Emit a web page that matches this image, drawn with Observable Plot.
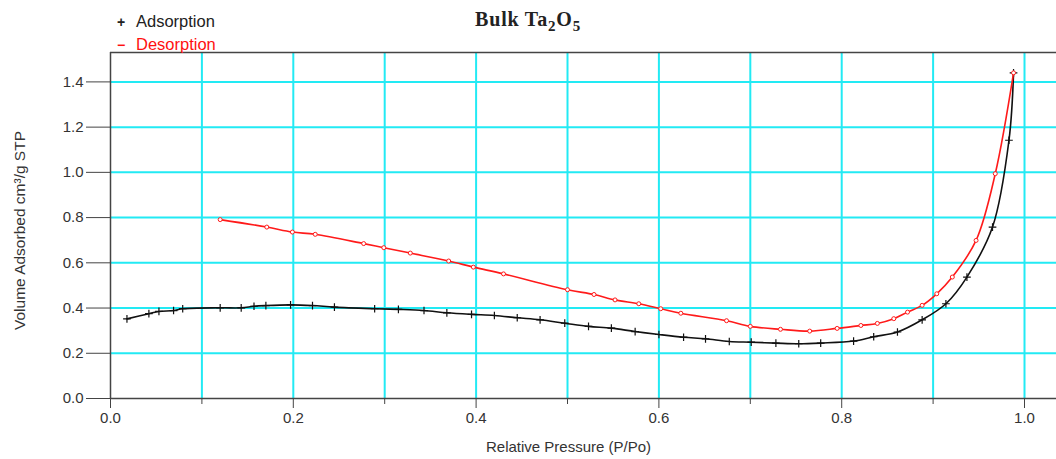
<!DOCTYPE html>
<html>
<head>
<meta charset="utf-8">
<script src="https://cdn.jsdelivr.net/npm/d3@7"></script>
<script src="https://cdn.jsdelivr.net/npm/@observablehq/plot@0.6"></script>
<style>
  html, body { margin: 0; padding: 0; background: #fff; }
  #wrap { position: relative; width: 1056px; height: 459px; overflow: hidden; }
  #title { position: absolute; left: 0; width: 1056px; top: 8px; text-align: center; font-family: "Liberation Serif", "DejaVu Serif", serif; font-weight: bold; font-size: 20px; letter-spacing: 0.8px; color: #222; }
  #title sub { font-size: 15px; vertical-align: -5px; line-height: 0; }
  .leg { position: absolute; font-family: "Liberation Sans", Arial, sans-serif; font-size: 16.5px; line-height: 18px; }
  .leg .sym { display: inline-block; width: 12px; text-align: center; font-weight: bold; font-size: 14px; margin-right: 9px; }
  #plot { position: absolute; left: 0; top: 0; }
</style>
</head>
<body>
<div id="wrap">
  <div id="plot"></div>
  <div id="title">Bulk Ta<sub>2</sub>O<sub>5</sub></div>
  <div class="leg" style="left:115px; top:12px; color:#222;"><span class="sym">+</span><span id="l1"></span></div>
  <div class="leg" style="left:115px; top:35px; color:#ff1010;"><span class="sym">−</span><span id="l2"></span></div>
</div>
<script>
const seriesNames = ["Adsorption", "Desorption"];
const adsX = [0.018,0.042,0.053,0.069,0.079,0.120,0.143,0.157,0.170,0.197,0.221,0.245,0.289,0.315,0.343,0.368,0.395,0.420,0.445,0.470,0.497,0.523,0.548,0.574,0.600,0.627,0.651,0.677,0.701,0.728,0.753,0.777,0.813,0.835,0.861,0.888,0.914,0.937,0.965,0.983,0.988];
const adsY = [0.352,0.375,0.385,0.389,0.397,0.401,0.401,0.408,0.411,0.414,0.411,0.404,0.397,0.394,0.389,0.379,0.372,0.367,0.357,0.348,0.333,0.319,0.311,0.296,0.283,0.271,0.264,0.252,0.249,0.245,0.242,0.245,0.254,0.273,0.294,0.348,0.419,0.537,0.758,1.142,1.440];
const desX = [0.120,0.171,0.199,0.224,0.277,0.299,0.328,0.370,0.397,0.430,0.500,0.529,0.552,0.578,0.602,0.624,0.674,0.700,0.733,0.765,0.795,0.821,0.839,0.857,0.872,0.888,0.904,0.921,0.947,0.968,0.988];
const desY = [0.791,0.758,0.736,0.726,0.685,0.667,0.643,0.608,0.581,0.551,0.481,0.460,0.436,0.419,0.397,0.377,0.344,0.319,0.306,0.298,0.310,0.323,0.332,0.353,0.382,0.412,0.463,0.537,0.699,0.994,1.440];
const xMajorTicks = [0.0, 0.2, 0.4, 0.6, 0.8, 1.0];
const xMinorTicks = [0.1, 0.3, 0.5, 0.7, 0.9];
const xGrid = [0.1,0.2,0.3,0.4,0.5,0.6,0.7,0.8,0.9,1.0];
const yTicks = [0.0,0.2,0.4,0.6,0.8,1.0,1.2,1.4];
const yGrid = [0.2,0.4,0.6,0.8,1.0,1.2,1.4];
const xLabel = "Relative Pressure (P/Po)";
const yLabel = "Volume Adsorbed cm³/g STP";

document.getElementById("l1").textContent = seriesNames[0];
document.getElementById("l2").textContent = seriesNames[1];

const ads = adsX.map((x, i) => ({x, y: adsY[i]}));
const des = desX.map((x, i) => ({x, y: desY[i]}));

const axisColor = "#444";
const cyan = "#22eaf4";

const chart = Plot.plot({
  width: 1056,
  height: 459,
  marginLeft: 110,
  marginRight: 0,
  marginTop: 52,
  marginBottom: 61,
  style: { fontFamily: "'Liberation Sans', Arial, sans-serif", fontSize: "15px", color: "#333", background: "#fff" },
  x: { domain: [0, 1.035] },
  y: { domain: [0, 1.53] },
  marks: [
    Plot.ruleX(xGrid, { stroke: cyan, strokeWidth: 2 }),
    Plot.ruleY(yGrid, { stroke: cyan, strokeWidth: 2 }),
    Plot.ruleY([1.53], { stroke: axisColor, strokeWidth: 1.5 }),
    Plot.axisX(xMajorTicks, { tickSize: 10, tickPadding: 4, tickFormat: d3.format(".1f"), stroke: axisColor, fill: "#333", fontSize: 15, label: null }),
    Plot.axisX(xMinorTicks, { tickSize: 6, tickFormat: () => "", stroke: axisColor, label: null }),
    Plot.axisY(yTicks, { tickSize: 24, tickPadding: 3, tickFormat: d3.format(".1f"), stroke: axisColor, fill: "#333", fontSize: 15, label: null }),
    Plot.ruleX([0], { stroke: axisColor, strokeWidth: 1.5 }),
    Plot.ruleY([0], { stroke: axisColor, strokeWidth: 1.5 }),
    Plot.line(ads, { x: "x", y: "y", stroke: "#111", strokeWidth: 1.6, curve: "catmull-rom" }),
    Plot.dot(ads, { x: "x", y: "y", symbol: "plus", r: 2.6, stroke: "#111", strokeWidth: 1.2 }),
    Plot.line(des, { x: "x", y: "y", stroke: "#ff1a1a", strokeWidth: 1.6, curve: "catmull-rom" }),
    Plot.dot(des, { x: "x", y: "y", symbol: "circle", r: 2, stroke: "#ff1a1a", fill: "#fff", strokeWidth: 1 }),
    Plot.text([xLabel], { frameAnchor: "bottom", dy: 53, dx: -15, text: d => d, fontSize: 15, fill: "#333" }),
    Plot.text([yLabel], { frameAnchor: "left", dx: -90, dy: 5, rotate: -90, textAnchor: "middle", text: d => d, fontSize: 15.5, fill: "#333" })
  ]
});
document.getElementById("plot").appendChild(chart);
</script>
</body>
</html>
